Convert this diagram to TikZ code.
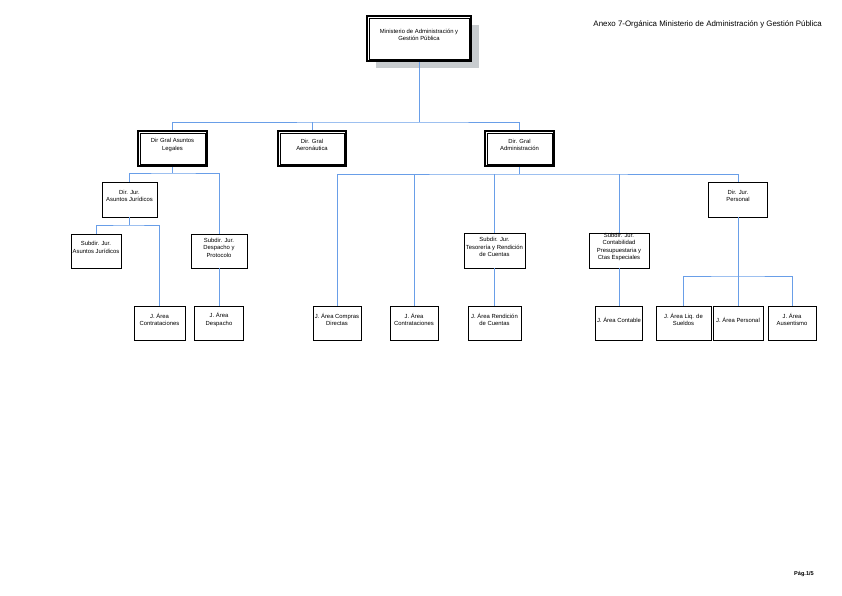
\documentclass[tikz,border=0pt]{standalone}
\usepackage{fontspec}
\setmainfont{Liberation Sans}
\usetikzlibrary{shadows}
\definecolor{linkblue}{RGB}{105,158,232}
\definecolor{shadowgrey}{RGB}{200,204,207}
\tikzset{
  box/.style={draw=black, line width=0.7pt, fill=white, inner sep=0pt,
    drop shadow={shadow xshift=0.9pt, shadow yshift=-0.9pt, fill=black, opacity=1}},
  dbox/.style={draw=black, line width=1.7pt, fill=white, inner sep=0pt},
  txt/.style={align=center, inner sep=0pt, font=\fontsize{5.9}{7.4}\selectfont},
  link/.style={draw=linkblue, line width=0.8pt},
}
\newcommand\obox[6]{%
  \node[box, minimum width=#4pt, minimum height=#5pt] (#1) at (#2,#3) {};
  \node[txt] (#1t) at ([yshift=3.5pt]#1.center) {#6};}
\newcommand\dblbox[6]{%
  \node[dbox, minimum width=#4pt, minimum height=#5pt] (#1) at (#2,#3) {};
  \draw[line width=0.6pt] ([shift={(2.9,2.9)}]#1.north west) rectangle ([shift={(-2.9,-2.9)}]#1.south east);
  \node[txt] (#1t) at ([yshift=3.5pt]#1.center) {#6};}
\begin{document}
\begin{tikzpicture}[x=1pt,y=-1pt]
\useasboundingbox (0,0) rectangle (842,595);
% title and page
\node[anchor=base east, inner sep=0pt, font=\fontsize{7.9}{9}\selectfont] (title) at (822,26) {Anexo 7-Orgánica Ministerio de Administración y Gestión Pública};
\node[anchor=base east, inner sep=0pt, font=\fontsize{5.6}{7}\selectfont\bfseries] (page) at (814,575) {Pág.1/5};
% top box with grey shadow
\fill[shadowgrey] (376,25) rectangle (479,68);
\dblbox{min}{419}{38.5}{104}{45}{Ministerio de Administración y\\Gestión Pública}
% level 2
\dblbox{leg}{172.5}{148.5}{69}{35}{Dir Gral Asuntos\\Legales}
\dblbox{aer}{312}{148.5}{68}{35}{Dir. Gral\\Aeronáutica}
\dblbox{adm}{519.5}{148.5}{69}{35}{Dir. Gral\\Administración}
% under Legales
\obox{daj}{129.5}{199.5}{55}{35}{Dir. Jur.\\Asuntos Jurídicos}
\obox{saj}{96}{251}{50}{34}{Subdir. Jur.\\Asuntos Jurídicos}
\obox{sdp}{219}{251}{56}{34}{Subdir. Jur.\\Despacho y\\Protocolo}
\obox{jcl}{159.5}{323}{51}{34}{J. Área\\Contrataciones}
\obox{jdp}{219}{323}{49}{34}{J. Área\\Despacho}
% under Administracion
\obox{jcd}{337}{323}{48}{34}{J. Área Compras\\Directas}
\obox{jca}{414}{323}{48}{34}{J. Área\\Contrataciones}
\obox{stc}{494.5}{250.5}{61}{35}{Subdir. Jur.\\Tesorería y Rendición\\de Cuentas}
\obox{jrc}{494.5}{323}{53}{34}{J. Área Rendición\\de Cuentas}
\obox{scp}{619}{250.5}{60}{35}{Subdir. Jur.\\Contabilidad\\Presupuestaria y\\Ctas Especiales}
\obox{jct}{619}{323}{47}{34}{J. Área Contable}
\obox{dpe}{738}{199.5}{59}{35}{Dir. Jur.\\Personal}
\obox{jls}{683.5}{323}{55}{34}{J. Área Liq. de\\Sueldos}
\obox{jpe}{738}{323}{50}{34}{J. Área Personal}
\obox{jau}{792}{323}{48}{34}{J. Área\\Ausentismo}
% buses
\coordinate (b1) at (419,122);
\coordinate (b2) at (172.5,173);
\coordinate (b3) at (129.5,225);
\coordinate (b4) at (519.5,174);
\coordinate (b5) at (738,276);
% connectors
\draw[link] (min.south) -- (b1);
\draw[link] (leg.north) |- (b1) -| (adm.north);
\draw[link] (aer.north) -- (aer.north |- b1);
\draw[link] (leg.south) -- (b2);
\draw[link] (daj.north) |- (b2) -| (sdp.north);
\draw[link] (daj.south) -- (b3);
\draw[link] (saj.north) |- (b3) -| (jcl.north);
\draw[link] (sdp.south) -- (jdp.north);
\draw[link] (adm.south) -- (b4);
\draw[link] (jcd.north) |- (b4) -| (dpe.north);
\draw[link] (jca.north) -- (jca.north |- b4);
\draw[link] (stc.north) -- (stc.north |- b4);
\draw[link] (scp.north) -- (scp.north |- b4);
\draw[link] (stc.south) -- (jrc.north);
\draw[link] (scp.south) -- (jct.north);
\draw[link] (dpe.south) -- (jpe.north);
\draw[link] (jls.north) |- (b5) -| (jau.north);
\end{tikzpicture}
\end{document}
